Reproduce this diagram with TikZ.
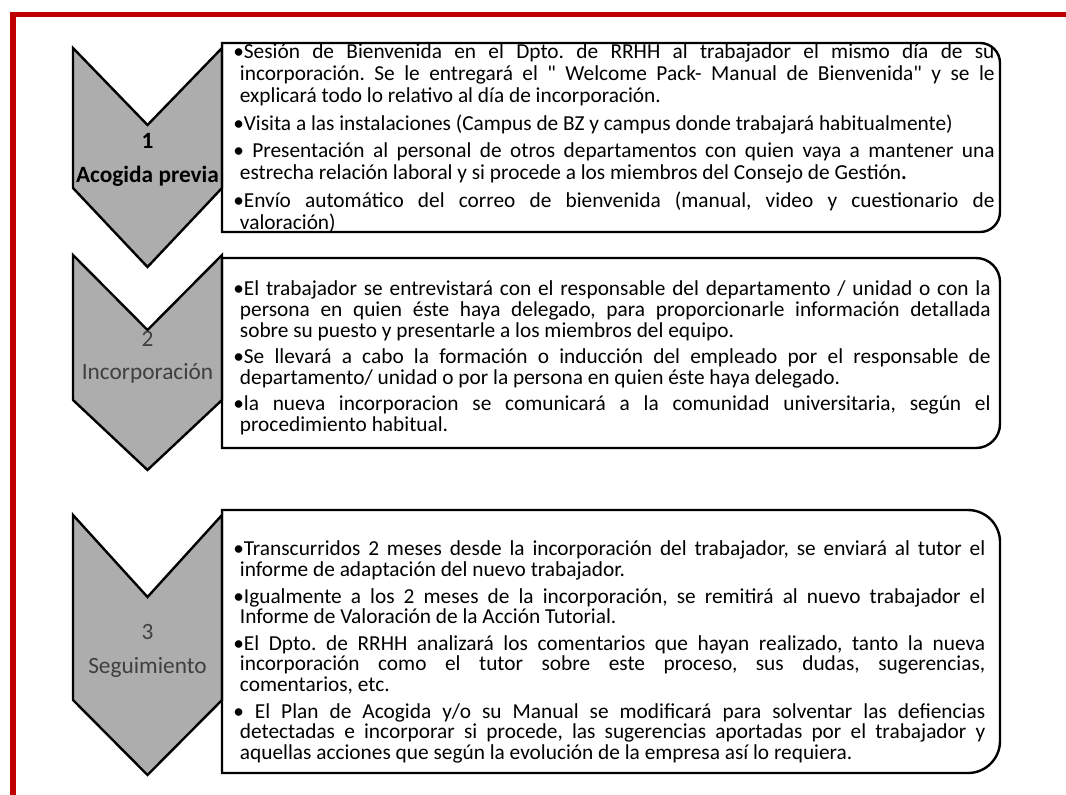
\documentclass[tikz,border=0pt]{standalone}
\usepackage{fontspec}
\setmainfont{Carlito}
\usepackage{xcolor}
\usepackage{tikz}
\definecolor{rojoMarco}{HTML}{C00000}
\definecolor{grisFlecha}{HTML}{ADADAD}
\definecolor{grisOscuro}{HTML}{3F3F3F}
\frenchspacing
\newcommand{\ajustes}{\setlength{\parskip}{4.4pt}\lineskiplimit=-20pt\hyphenpenalty=10000\relax}
\newcommand{\punto}[1]{\par\hangindent=5pt\hangafter=1\noindent\rule{0pt}{12pt}•#1\par}
\newcommand{\comillas}{\XeTeXglyph\XeTeXcharglyph"22\relax}

\begin{document}
\begin{tikzpicture}[x=0.75pt,y=-0.75pt,
  flecha/.style={draw=black,line width=1.8pt,fill=grisFlecha},
  caja/.style={draw=black,line width=1.8pt},
  texto/.style={anchor=north west,inner sep=0pt,align=justify,
    font=\fontsize{16}{15.5}\selectfont,execute at begin node=\ajustes},
  etiqueta/.style={align=center,inner sep=0pt,font=\fontsize{17.5}{25}\selectfont}]
\useasboundingbox (0,0) rectangle (1066,794);
\draw[rojoMarco,line width=3.8pt] (13,820) |- (1090,14.5);
\foreach \t/\n/\s/\p in {48/125/188/267,255/330/400/470,515/597/700/775}
  \draw[flecha] (73,\t) -- (147.5,\n) -- (222,\t) -- (222,\s) -- (147.5,\p) -- (73,\s) -- cycle;
\node[etiqueta,font=\fontsize{17.5}{25}\selectfont\bfseries] (acogida) at (147.5,160) {1\\Acogida previa};
\node[etiqueta,text=grisOscuro] (incorporacion) at (147.5,357) {2\\Incorporación};
\node[etiqueta,text=grisOscuro] (seguimiento) at (147.5,651) {3\\Seguimiento};
\node[texto,text width=571pt,font=\fontsize{16}{16.5}\selectfont] (textoAcogida) at (233,30) {%
  \punto{Sesión de Bienvenida en el Dpto. de RRHH al trabajador el mismo día de su\linebreak incorporación. Se le entregará el \comillas{} Welcome Pack- Manual de Bienvenida\comillas{} y se le\linebreak explicará todo lo relativo al día de incorporación.}
  \punto{Visita a las instalaciones (Campus de BZ y campus donde trabajará habitualmente)}
  \punto{ Presentación al personal de otros departamentos con quien vaya a mantener una\linebreak estrecha relación laboral y si procede a los miembros del Consejo de Gestión\textbf{.}}
  \punto{Envío automático del correo de bienvenida (manual, video y cuestionario de\linebreak valoración)}};
\node[texto,text width=568pt] (textoIncorporacion) at (233,269) {%
  \punto{El trabajador se entrevistará con el responsable del departamento / unidad o con la\linebreak persona en quien éste haya delegado, para proporcionarle información detallada\linebreak sobre su puesto y presentarle a los miembros del equipo.}
  \punto{Se llevará a cabo la formación o inducción del empleado por el responsable de\linebreak departamento/ unidad o por la persona en quien éste haya delegado.}
  \punto{la nueva incorporacion se comunicará a la comunidad universitaria, según el\linebreak procedimiento habitual.}};
\node[texto,text width=564pt] (textoSeguimiento) at (233,529) {%
  \punto{Transcurridos 2 meses desde la incorporación del trabajador, se enviará al tutor el\linebreak informe de adaptación del nuevo trabajador.}
  \punto{Igualmente a los 2 meses de la incorporación, se remitirá al nuevo trabajador el\linebreak Informe de Valoración de la Acción Tutorial.}
  \punto{El Dpto. de RRHH analizará los comentarios que hayan realizado, tanto la nueva\linebreak incorporación como el tutor sobre este proceso, sus dudas, sugerencias,\linebreak comentarios, etc.}
  \punto{ El Plan de Acogida y/o su Manual se modificará para solventar las defiencias\linebreak detectadas e incorporar si procede, las sugerencias aportadas por el trabajador y\linebreak aquellas acciones que según la evolución de la empresa así lo requiera.}};
\foreach \t/\b/\r in {43/232/20,258/448/24,510/773/32}
  \draw[caja] (222,\t) -- ({1000-\r},\t) arc[start angle=-90,end angle=0,radius=\r]
    -- (1000,{\b-\r}) arc[start angle=0,end angle=90,radius=\r] -- (222,\b) -- cycle;
\end{tikzpicture}
\end{document}
